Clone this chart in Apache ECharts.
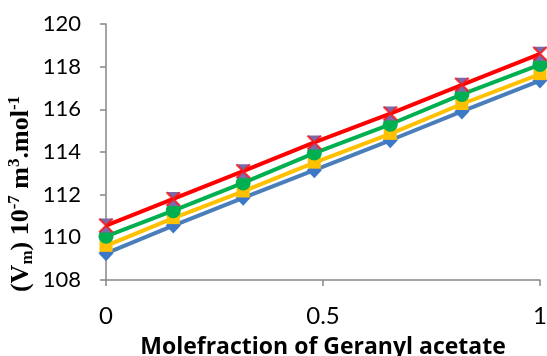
<!DOCTYPE html>
<html>
<head>
<meta charset="utf-8">
<script src="https://cdn.jsdelivr.net/npm/echarts@6/dist/echarts.min.js"></script>
<style>
  html, body { margin: 0; padding: 0; background: #fff; }
  #chart { width: 547px; height: 356px; }
</style>
</head>
<body>
<div id="chart"></div>
<script>
// Mole fraction of geranyl acetate
const moleFraction = [0, 0.155, 0.316, 0.48, 0.655, 0.82, 1];

// Molar volume Vm (10^-7 m^3 mol^-1), one list per curve
const setBlue   = [109.25, 110.55, 111.85, 113.15, 114.55, 115.9, 117.35];
const setYellow = [109.6, 110.9, 112.15, 113.5, 114.85, 116.25, 117.65];
const setGreen  = [110.05, 111.25, 112.55, 113.95, 115.3, 116.7, 118.1];
const setRed    = [110.55, 111.8, 113.1, 114.45, 115.8, 117.15, 118.6];

const yTicks = { min: 108, max: 120, step: 2 };
const xTicks = { min: 0, max: 1, step: 0.5 };

const pairs = ys => moleFraction.map((x, i) => [x, ys[i]]);

const HOURGLASS = 'path://M0,0L10,0L5,5Z M5,5L10,10L0,10Z';
const CROSS = 'path://M0,1L1,0L5,4L9,0L10,1L6,5L10,9L9,10L5,6L1,10L0,9L4,5Z';

const lineSeries = (name, ys, color, symbol, size, markColor, z) => ({
  name, type: 'line', data: pairs(ys), z,
  symbol, symbolSize: size,
  lineStyle: { color, width: 4 },
  itemStyle: { color: markColor },
  emphasis: { disabled: true }
});

const serif = { fontFamily: 'Liberation Serif', fontWeight: 'bold', fill: '#000', lineHeight: 30 };

const chart = echarts.init(document.getElementById('chart'));
chart.setOption({
  animation: false,
  backgroundColor: '#fff',
  grid: { left: 106, right: 7, top: 24, bottom: 76, containLabel: false, outerBoundsMode: 'none' },
  xAxis: {
    type: 'value', min: xTicks.min, max: xTicks.max, interval: xTicks.step,
    axisLine: { lineStyle: { color: '#868686', width: 1.5 } },
    axisTick: { show: true, length: 6, lineStyle: { color: '#868686', width: 1.5 } },
    splitLine: { show: false },
    axisLabel: { color: '#000', fontFamily: 'Lato', fontSize: 24, margin: 24 },
    name: 'Molefraction of Geranyl acetate',
    nameLocation: 'middle', nameGap: 56,
    nameTextStyle: { color: '#000', fontFamily: 'Open Sans', fontWeight: 'bold', fontSize: 23 }
  },
  yAxis: {
    type: 'value', min: yTicks.min, max: yTicks.max, interval: yTicks.step,
    axisLine: { show: true, lineStyle: { color: '#868686', width: 1.5 } },
    axisTick: { show: true, length: 6, lineStyle: { color: '#868686', width: 1.5 } },
    splitLine: { show: false },
    axisLabel: { color: '#000', fontFamily: 'Lato', fontSize: 22, margin: 25 }
  },
  // rotated y-axis title with sub/superscripts
  graphic: [{
    type: 'text', x: 21, y: 194, rotation: Math.PI / 2,
    style: {
      text: '{t|(V}{sub|m}{t|) 10}{sup|-7}{t| m}{sup|3}{t|.mol}{sup|-1}',
      align: 'center', verticalAlign: 'middle',
      rich: {
        t:   Object.assign({ fontSize: 26, verticalAlign: 'middle' }, serif),
        sub: Object.assign({ fontSize: 17, verticalAlign: 'bottom' }, serif),
        sup: Object.assign({ fontSize: 17, verticalAlign: 'top' }, serif)
      }
    }
  }],
  series: [
    lineSeries('set-blue',   setBlue,   '#4A7EBB', 'diamond', [15, 16], '#3C78C8', 2),
    lineSeries('set-yellow', setYellow, '#FFC000', 'rect', [13, 12], '#FFC000', 3),
    lineSeries('set-green',  setGreen,  '#00B050', 'circle', 15, '#00B050', 4),
    lineSeries('set-red',    setRed,    '#FF0000', HOURGLASS, [14, 14], '#7C69A8', 5),
    {
      name: 'set-red-cross', type: 'scatter', data: pairs(setRed), z: 6,
      symbol: CROSS, symbolSize: 15,
      itemStyle: { color: '#FF1010' },
      emphasis: { disabled: true }
    }
  ]
});
</script>
</body>
</html>
